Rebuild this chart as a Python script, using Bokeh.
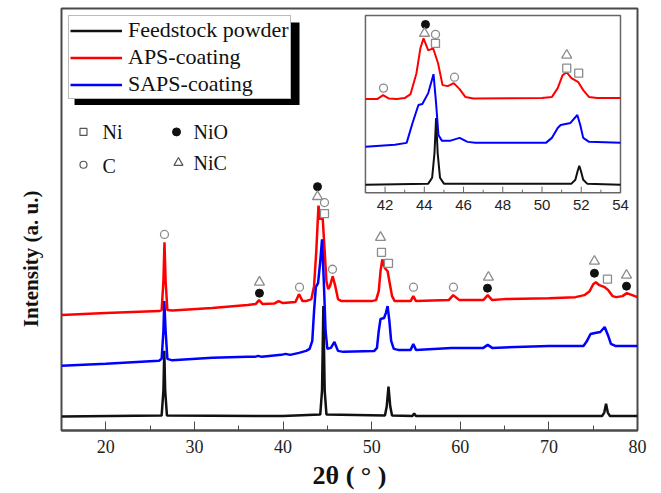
from bokeh.plotting import figure
from bokeh.models import Range1d, Legend, LegendItem, BoxAnnotation, SingleIntervalTicker, FixedTicker
from bokeh.core.properties import value
from bokeh.embed import file_html
from bokeh.resources import INLINE

# ---------------- data (2theta in degrees, intensity in a.u.) ----------------
# Main pattern: Feedstock powder (black)
black_x = [15.0, 26.3, 26.5, 26.6, 26.7, 26.9, 40.0, 44.2, 44.4, 44.55, 44.7, 44.9,
           51.5, 51.7, 51.9, 52.1, 52.3, 54.6, 54.8, 55.0, 76.0, 76.25, 76.45, 76.65, 76.9, 80.0]
black_y = [14, 15, 40, 80, 40, 15, 14.5, 16, 40, 125, 40, 16,
           15, 24, 44, 24, 15, 14.5, 17, 14.5, 14.5, 18, 27, 18, 14.5, 14.5]

# APS-coating (red)
red_x = [15.0, 20.0, 26.0, 26.3, 26.5, 26.62, 26.75, 26.95, 27.5,
         32.0, 36.0, 36.9, 37.3, 37.7, 39.0, 39.5, 40.0, 41.4, 41.8, 42.2, 42.6,
         43.2, 43.5, 43.75, 44.0, 44.2, 44.45, 44.7, 44.9, 45.1, 45.3, 45.6, 45.9, 46.2, 46.6,
         50.0, 50.5, 50.8, 51.0, 51.2, 51.5, 51.8, 52.0, 52.3, 52.6,
         54.4, 54.7, 55.0, 58.7, 59.2, 59.9, 62.6, 63.1, 63.6,
         65.0, 70.0, 73.0, 74.0, 74.6, 75.0, 75.3, 75.7, 76.3, 76.7, 77.2, 77.6,
         78.3, 78.8, 79.4, 80.0]
red_y = [116, 118, 120, 121, 150, 189, 150, 121, 120.5,
         123, 126, 127, 131, 127, 127.5, 130, 128, 129, 137, 130, 130,
         132, 145, 180, 226, 212, 217, 180, 150, 142, 145, 155, 145, 132, 130,
         130, 131, 140, 160, 172, 163, 160, 150, 135, 130,
         130, 135, 130, 131, 136, 131, 131, 136, 131,
         132, 133, 134, 136, 140, 147, 149, 146, 144, 141, 135, 134,
         135, 138, 136, 134]

# SAPS-coating (blue)
blue_x = [15.0, 20.0, 26.0, 26.3, 26.5, 26.6, 26.75, 26.95, 27.5,
          32.0, 36.0, 36.8, 37.2, 37.6, 39.8, 40.3, 40.8, 41.8, 42.2, 42.6,
          43.0, 43.3, 43.5, 43.7, 43.95, 44.2, 44.4, 44.6, 44.8, 45.0,
          45.4, 45.8, 46.2, 46.8,
          50.3, 50.6, 50.8, 51.0, 51.4, 51.6, 51.8, 52.0, 52.2, 52.5, 53.0,
          54.4, 54.7, 55.0, 59.0, 62.6, 63.1, 63.6, 70.0,
          73.9, 74.3, 74.7, 75.2, 75.8, 76.3, 76.7, 77.0, 77.5, 80.0]
blue_y = [65, 67, 70, 72, 100, 130, 100, 72, 70.5,
          73, 74, 74, 75, 74, 76, 77, 76, 78, 79, 80,
          82, 90, 120, 144, 148, 170, 192, 150, 100, 82,
          83, 89, 80, 79,
          80, 83, 100, 112, 113, 118, 125, 110, 90, 82, 81,
          81, 87, 81, 83, 83, 86, 83, 85,
          85, 90, 97, 98, 99, 104, 95, 87, 85, 85]

# Inset (41-54 deg)
iblack_x = [41.0, 44.2, 44.4, 44.52, 44.6, 44.68, 44.8, 45.0, 51.5, 51.7, 51.82, 51.9, 51.98, 52.1, 52.3, 54.0]
iblack_y = [8, 9, 15, 40, 75, 40, 15, 9, 9, 13, 22, 27, 22, 13, 9, 8]

ired_x = [41.0, 41.6, 41.9, 42.2, 42.6, 43.0, 43.3, 43.6, 43.8, 43.96, 44.2, 44.45, 44.7, 44.93,
          45.2, 45.5, 45.8, 46.1, 46.5, 50.0, 50.5, 50.8, 51.05, 51.25, 51.5, 51.85, 52.1, 52.4, 52.8, 54.0]
ired_y = [94, 94, 98, 94.5, 94, 95, 99, 120, 145, 155, 143, 145, 130, 108,
          107, 110, 104, 96, 94.5, 95, 96, 105, 118, 121, 115, 111, 103, 96, 95, 95]

iblue_x = [41.0, 42.5, 43.1, 43.4, 43.7, 43.9, 44.2, 44.47, 44.6, 44.72, 44.9, 45.3, 45.8, 46.2, 46.6,
           50.2, 50.5, 50.8, 50.95, 51.45, 51.8, 51.95, 52.1, 52.4, 54.0]
iblue_y = [46, 48, 50, 70, 88, 89, 100, 119, 90, 58, 52, 52, 55, 51, 50,
           50, 55, 65, 68, 70, 78, 68, 55, 51, 50]

# Phase markers, main pattern
ni_x = [44.68, 51.11, 51.9, 76.61]
ni_y = [218, 179, 168, 152]
nio_x = [43.89, 37.34, 63.07, 75.14, 78.76]
nio_y = [245, 138, 143, 158, 145]
c_x = [26.62, 41.86, 44.68, 45.58, 54.72, 59.23]
c_y = [197, 144, 229, 162, 144, 144]
nic_x = [43.89, 37.34, 51.0, 63.18, 75.14, 78.76]
nic_y = [235, 149, 194, 154, 170, 156]

# Phase markers, inset
ini_x = [44.57, 51.26, 51.87]
ini_y = [150, 125, 120]
inio_x = [44.06]
inio_y = [169]
ic_x = [44.57, 41.92, 45.54]
ic_y = [159, 105, 116]
inic_x = [44.01, 51.26]
inic_y = [160, 138]

series_labels = ["Feedstock powder", "APS-coating", "SAPS-coating"]
phase_labels = ["Ni", "NiO", "C", "NiC"]
inset_major = [42, 44, 46, 48, 50, 52, 54]
inset_minor = [41, 43, 45, 47, 49, 51, 53]

# ---------------- styling ----------------
SERIF = "Liberation Serif"
SANS = "Liberation Sans"
BLACK, RED, BLUE, GREY = "#111111", "#ff0000", "#0000ff", "#8c8c8c"
FRAME = "#4a4a4a"

p = figure(width=660, height=492, x_range=Range1d(15, 80), y_range=Range1d(0, 424),
           output_backend="svg", toolbar_location=None,
           min_border_left=61, min_border_right=23, min_border_top=8, min_border_bottom=60)
p.outline_line_color = FRAME
p.outline_line_width = 2
p.xgrid.visible = False
p.ygrid.visible = False

xa = p.xaxis[0]
xa.ticker = SingleIntervalTicker(interval=10, num_minor_ticks=2)
xa.major_tick_in = 9
xa.major_tick_out = 0
xa.minor_tick_in = 5
xa.minor_tick_out = 0
xa.major_tick_line_color = FRAME
xa.minor_tick_line_color = FRAME
xa.axis_line_color = FRAME
xa.axis_line_width = 2
xa.major_label_text_font = SERIF
xa.major_label_text_font_size = "18px"
xa.major_label_text_color = "#222222"
xa.major_label_standoff = 9
xa.axis_label = "2θ ( ° )"
xa.axis_label_text_font = SERIF
xa.axis_label_text_font_style = "bold"
xa.axis_label_text_font_size = "26px"
xa.axis_label_text_color = "#111111"
xa.axis_label_standoff = 5

ya = p.yaxis[0]
ya.ticker = FixedTicker(ticks=[])
ya.major_tick_in = 0
ya.major_tick_out = 0
ya.minor_tick_in = 0
ya.minor_tick_out = 0
ya.axis_line_color = None
ya.major_label_standoff = 0
# trailing no-break spaces keep the visible label centred on the frame
ya.axis_label = "Intensity (a. u.)" + "\u00a0" * 15
ya.axis_label_text_font = SERIF
ya.axis_label_text_font_style = "bold"
ya.axis_label_text_font_size = "21px"
ya.axis_label_text_color = "#111111"
ya.axis_label_standoff = 19

# main curves
rk = p.line(black_x, black_y, line_color=BLACK, line_width=2.5)
rr = p.line(red_x, red_y, line_color=RED, line_width=2.5)
rb = p.line(blue_x, blue_y, line_color=BLUE, line_width=2.5)

# main phase markers
p.scatter(ni_x, ni_y, marker="square", size=8, line_color=GREY, fill_color="white", line_width=1.3)
p.scatter(nio_x, nio_y, marker="circle", size=8, line_color=BLACK, fill_color=BLACK)
p.scatter(c_x, c_y, marker="circle", size=8, line_color=GREY, fill_color="white", line_width=1.3)
p.scatter(nic_x, nic_y, marker="triangle", size=10, line_color=GREY, fill_color="white", line_width=1.3)

# phase key (under the legend)
p.scatter([17.48], [300], marker="square", size=7, line_color="#555555", fill_color="white", line_width=1.2)
p.scatter([27.98], [300], marker="circle", size=8, line_color=BLACK, fill_color=BLACK)
p.scatter([17.48], [267], marker="circle", size=7, line_color="#555555", fill_color="white", line_width=1.2)
p.scatter([28.2], [269], marker="triangle", size=9, line_color="#555555", fill_color="white", line_width=1.2)
p.text(x=[19.63, 29.9, 19.63, 29.9], y=[300, 300, 266, 269], text=phase_labels,
       text_font=value(SERIF), text_font_size="20px", text_color="#111111",
       text_baseline="middle", text_align="left")

# inset
p.quad(left=49.30, right=78.08, bottom=239, top=417, fill_color="white",
       line_color="#666666", line_width=1.5)
sub = p.subplot(x_source=Range1d(41, 54), y_source=Range1d(0, 178),
                x_target=Range1d(49.30, 78.08), y_target=Range1d(239, 417))
sub.line(iblack_x, iblack_y, line_color=BLACK, line_width=2)
sub.line(ired_x, ired_y, line_color=RED, line_width=2)
sub.line(iblue_x, iblue_y, line_color=BLUE, line_width=2)
sub.segment(x0=inset_major, y0=[0] * len(inset_major), x1=inset_major, y1=[6] * len(inset_major),
            line_color="#666666", line_width=1)
sub.segment(x0=inset_minor, y0=[0] * len(inset_minor), x1=inset_minor, y1=[3] * len(inset_minor),
            line_color="#666666", line_width=1)
sub.text(x=inset_major, y=[-12] * len(inset_major), text=[str(t) for t in inset_major],
         text_font=value(SANS), text_font_size="15px", text_color="#222222",
         text_align="center", text_baseline="middle")
sub.scatter(ini_x, ini_y, marker="square", size=8, line_color=GREY, fill_color="white", line_width=1.3)
sub.scatter(inio_x, inio_y, marker="circle", size=8, line_color=BLACK, fill_color=BLACK)
sub.scatter(ic_x, ic_y, marker="circle", size=8, line_color=GREY, fill_color="white", line_width=1.3)
sub.scatter(inic_x, inic_y, marker="triangle", size=10, line_color=GREY, fill_color="white", line_width=1.3)

# legend with drop shadow
shadow = BoxAnnotation(left=16.47, right=41.86, bottom=327, top=410,
                       fill_color="black", fill_alpha=1, line_color=None)
p.add_layout(shadow)
legend = Legend(items=[LegendItem(label=series_labels[0], renderers=[rk]),
                       LegendItem(label=series_labels[1], renderers=[rr]),
                       LegendItem(label=series_labels[2], renderers=[rb])],
                location=(7, 331), margin=0, padding=1, spacing=1,
                glyph_width=52, glyph_height=25, label_height=25, label_standoff=6,
                label_text_font=SERIF, label_text_font_size="22px", label_text_color="#111111",
                border_line_color="#777777", border_line_width=1,
                background_fill_color="white", background_fill_alpha=1)
p.add_layout(legend)

open("out.html", "w").write(file_html(p, INLINE))
